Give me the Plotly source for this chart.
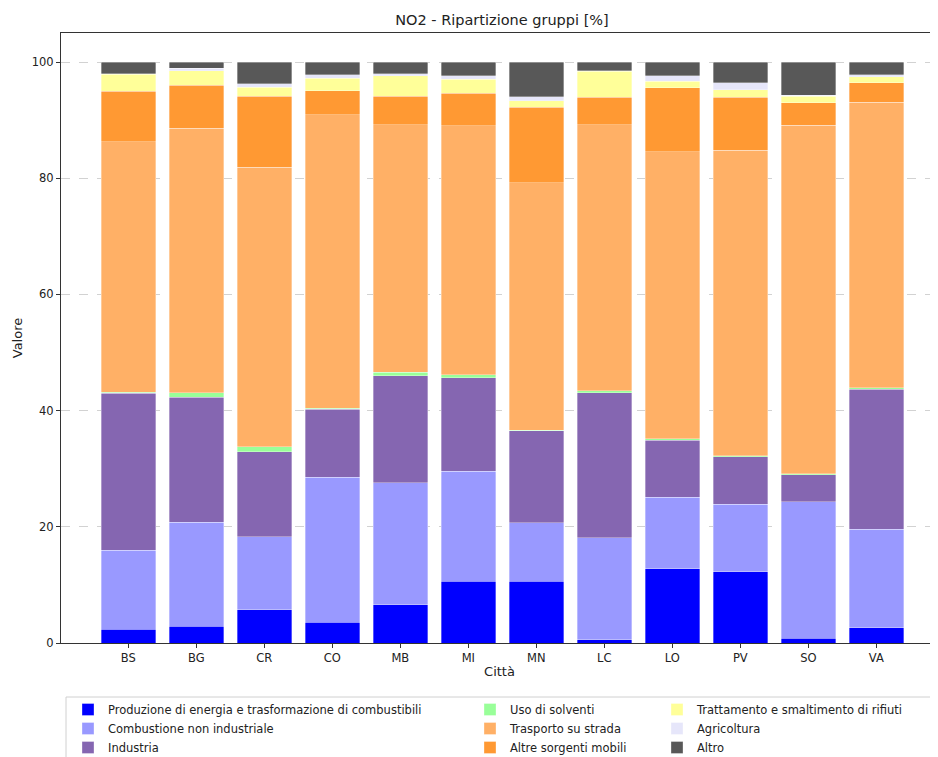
import plotly.graph_objects as go

cities = ["BS", "BG", "CR", "CO", "MB", "MI", "MN", "LC", "LO", "PV", "SO", "VA"]

groups = [
    "Produzione di energia e trasformazione di combustibili",
    "Combustione non industriale",
    "Industria",
    "Uso di solventi",
    "Trasporto su strada",
    "Altre sorgenti mobili",
    "Trattamento e smaltimento di rifiuti",
    "Agricoltura",
    "Altro",
]

produzione = [2.4, 2.9, 5.7, 3.6, 6.6, 10.6, 10.6, 0.6, 12.8, 12.3, 0.8, 2.6]
combustione = [13.6, 17.9, 12.6, 24.9, 21.0, 19.0, 10.1, 17.5, 12.3, 11.6, 23.5, 17.0]
industria = [27.0, 21.5, 14.6, 11.7, 18.4, 16.1, 15.8, 25.0, 9.8, 8.2, 4.7, 24.1]
solventi = [0.2, 0.8, 0.9, 0.2, 0.6, 0.5, 0.1, 0.3, 0.3, 0.1, 0.1, 0.2]
trasporto = [43.1, 45.5, 48.1, 50.5, 42.6, 42.8, 42.6, 45.8, 49.4, 52.6, 60.0, 49.2]
altre_sorgenti = [8.7, 7.4, 12.2, 4.2, 4.9, 5.6, 13.0, 4.7, 11.0, 9.1, 3.9, 3.3]
trattamento = [2.9, 2.5, 1.6, 2.1, 3.5, 2.4, 1.1, 4.5, 1.1, 1.3, 1.1, 1.1]
agricoltura = [0.1, 0.4, 0.6, 0.6, 0.4, 0.6, 0.7, 0.1, 0.9, 1.2, 0.2, 0.3]
altro = [2.0, 1.1, 3.7, 2.2, 2.0, 2.4, 6.0, 1.5, 2.4, 3.6, 5.7, 2.2]

series = [produzione, combustione, industria, solventi, trasporto,
          altre_sorgenti, trattamento, agricoltura, altro]

colors = ["#0000FF", "#9999FF", "#8566B1", "#99FF99", "#FFB066",
          "#FF9933", "#FFFF99", "#E6E6FA", "#585858"]

legend_ids = ["legend", "legend", "legend", "legend2", "legend2", "legend2",
              "legend3", "legend3", "legend3"]

# page offset (body margin) compensation
OFF = 8
W, H = 938 - OFF, 757 - OFF
L, R, T = 61 - OFF, 0, 33 - OFF
B = H - (643 - OFF)
pw = W - L - R
ph = H - T - B


def px_x(px):
    # px given in screenshot coordinates -> paper x
    return (px - OFF - L) / pw


def px_y(py):
    # screenshot y -> paper y
    return (H - B - (py - OFF)) / ph


def cy(py):
    # screenshot y -> container y
    return 1 - (py - OFF) / H


fig = go.Figure()
for name, vals, col, lg in zip(groups, series, colors, legend_ids):
    fig.add_trace(go.Bar(
        x=cities, y=vals, name=name, legend=lg,
        marker=dict(color=col, line=dict(color="rgba(255,255,255,0.55)", width=0.6)),
        width=0.8,
    ))

font = "DejaVu Sans, sans-serif"
leg_common = dict(
    orientation="v", xanchor="left", yanchor="top", yref="container",
    bgcolor="rgba(0,0,0,0)", borderwidth=0,
    font=dict(family=font, size=11.5, color="#222"),
    itemwidth=30, tracegroupgap=0, traceorder="normal",
)

fig.update_layout(
    width=W, height=H,
    margin=dict(l=L, r=R, t=T, b=B, autoexpand=False),
    barmode="stack",
    bargap=0.2,
    plot_bgcolor="white",
    paper_bgcolor="white",
    font=dict(family=font, size=11.5, color="#222"),
    title=dict(text="NO2 - Ripartizione gruppi [%]", x=px_x(502), xref="paper",
               xanchor="center", y=cy(20), yref="container", yanchor="middle",
               font=dict(family=font, size=14.5, color="#222")),
    xaxis=dict(
        type="category", range=[-0.99, 11 + (938 - 876.3) / 68.0],
        showline=True, linecolor="#333", linewidth=1, mirror=True,
        ticks="outside", ticklen=4, tickcolor="#333",
        showgrid=False, zeroline=False,
        title=dict(text="Città", standoff=3, font=dict(family=font, size=13)),
        tickfont=dict(family=font, size=11.5),
    ),
    yaxis=dict(
        range=[0, 105], tickvals=[0, 20, 40, 60, 80, 100],
        showline=True, linecolor="#333", linewidth=1, mirror=False,
        ticks="outside", ticklen=4, tickcolor="#333",
        showgrid=True, gridcolor="#d2d2d2", gridwidth=0.8, griddash="dash",
        zeroline=False,
        title=dict(text="Valore", standoff=6, font=dict(family=font, size=13)),
        tickfont=dict(family=font, size=11.5),
    ),
    legend=dict(x=px_x(68), y=cy(695), **leg_common),
    legend2=dict(x=px_x(470), y=cy(695), **leg_common),
    legend3=dict(x=px_x(657), y=cy(695), **leg_common),
    shapes=[dict(type="rect", xref="paper", yref="paper",
                 x0=px_x(66), x1=px_x(940), y0=px_y(762), y1=px_y(697),
                 line=dict(color="#d0d0d0", width=1), fillcolor="rgba(0,0,0,0)",
                 layer="below")],
)

fig.write_html("out.html")
